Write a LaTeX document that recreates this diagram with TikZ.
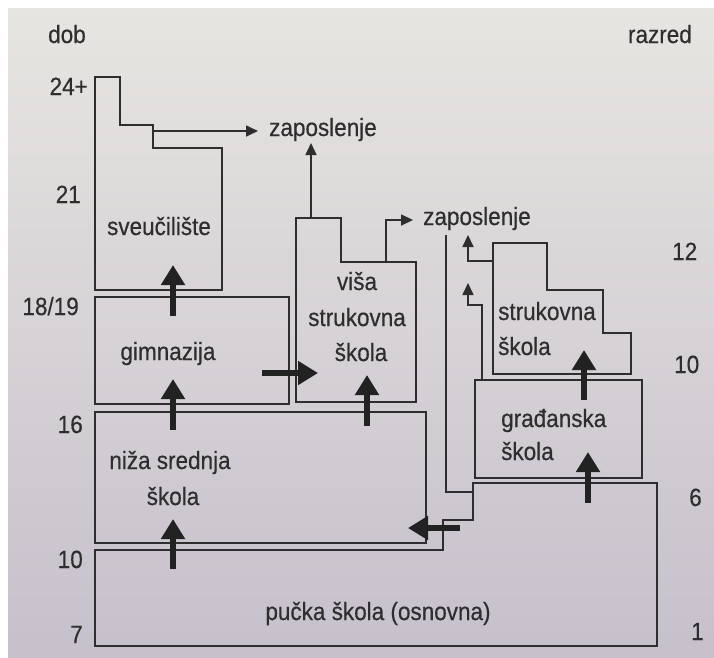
\documentclass[tikz,border=0pt]{standalone}
\usepackage{fontspec}
\setmainfont[FakeStretch=0.9,FakeBold=0.4]{Liberation Sans}
\usetikzlibrary{arrows.meta}
\definecolor{ink}{HTML}{2E2E2E}
\definecolor{flowink}{HTML}{222222}
\definecolor{bgtop}{RGB}{231,229,225}
\definecolor{bgbot}{RGB}{198,192,203}
\tikzset{
  box/.style={draw=ink, line width=1.7pt, line join=miter},
  thin arrow/.style={draw=ink, line width=1.7pt, -{Triangle[width=11pt,length=12pt]}},
  flow/.style={draw=flowink, line width=5.5pt, -{Triangle[width=23pt,length=20pt]}},
  lbl/.style={inner sep=0pt, text=ink, font=\fontsize{25}{35}\selectfont},
}
\begin{document}
\begin{tikzpicture}[x=1pt,y=-1pt]
\useasboundingbox (0,0) rectangle (714,657);
\fill[white] (0,0) rectangle (714,657);
\shade[top color=bgtop, bottom color=bgbot] (8,8) rectangle (714,657);

% axis labels
\node[lbl, anchor=base west] (dob) at (48,43) {dob};
\node[lbl, anchor=base east] (a24) at (88,95) {24+};
\node[lbl, anchor=base east] (a21) at (81,203) {21};
\node[lbl, anchor=base east] (a18) at (79,315) {18/19};
\node[lbl, anchor=base east] (a16) at (83,433) {16};
\node[lbl, anchor=base east] (a10) at (83,568) {10};
\node[lbl, anchor=base east] (a7) at (83,643) {7};
\node[lbl, anchor=base east] (razred) at (692,43) {razred};
\node[lbl, anchor=base west] (r12) at (672,260) {12};
\node[lbl, anchor=base west] (r10) at (674,373) {10};
\node[lbl, anchor=base west] (r6) at (689,506) {6};
\node[lbl, anchor=base west] (r1) at (691,640) {1};

% shapes
\draw[box] (95,77) -- (120,77) -- (120,125) -- (153,125) -- (153,148) -- (222,148) -- (222,290) -- (95,290) -- cycle;
\draw[box] (296,218) -- (341,218) -- (341,262) -- (416,262) -- (416,402) -- (296,402) -- cycle;
\draw[box] (95,297) rectangle (289,404);
\draw[box] (95,412) rectangle (426,543);
\draw[box] (95,550) -- (443,550) -- (443,520) -- (473,520) -- (473,483) -- (657,483) -- (657,646) -- (95,646) -- cycle;
\draw[box] (475,380) rectangle (642,478);
\draw[box] (493,243) -- (547,243) -- (547,290) -- (603,290) -- (603,333) -- (631,333) -- (631,374) -- (493,374) -- cycle;

% texts
\node[lbl, anchor=base] (sveu) at (159,235) {sveučilište};
\node[lbl, anchor=base west] (zap1) at (269,136) {zaposlenje};
\node[lbl, anchor=base west] (zap2) at (423,225) {zaposlenje};
\node[lbl, anchor=base] (visa1) at (357,290) {viša};
\node[lbl, anchor=base] (visa2) at (357,326) {strukovna};
\node[lbl, anchor=base] (visa3) at (361,361) {škola};
\node[lbl, anchor=base] (gimn) at (168,360) {gimnazija};
\node[lbl, anchor=base] (niza1) at (170,469) {niža srednja};
\node[lbl, anchor=base] (niza2) at (173,505) {škola};
\node[lbl, anchor=base] (pucka) at (378,620) {pučka škola (osnovna)};
\node[lbl, anchor=base west] (stru1) at (498,320) {strukovna};
\node[lbl, anchor=base west] (stru2) at (498,355) {škola};
\node[lbl, anchor=base west] (grad1) at (501,427) {građanska};
\node[lbl, anchor=base west] (grad2) at (501,460) {škola};

% connector coordinates
\coordinate (svS) at (153,131);
\coordinate (svE) at (258,131);
\coordinate (viTop) at (311,218);
\coordinate (viUp) at (311,143);
\coordinate (viS) at (386,262);
\coordinate (viE) at (413,220);
\coordinate (puS) at (473,492);
\coordinate (puT) at (446,235);
\coordinate (stS) at (493,261);
\coordinate (stE) at (468,235);
\coordinate (grS) at (482,380);
\coordinate (grE) at (468,283);

\draw[thin arrow] (svS) -- (svE);
\draw[thin arrow] (viTop) -- (viUp);
\draw[thin arrow] (viS) |- (viE);
\draw[box] (puS) -| (puT);
\draw[thin arrow] (stS) -| (stE);
\draw[thin arrow] (grS) -- (482,305) -| (grE);

% thick flow arrows
\coordinate (f1a) at (173,569); \coordinate (f1b) at (173,519);
\coordinate (f2a) at (173,430); \coordinate (f2b) at (173,379);
\coordinate (f3a) at (173,316); \coordinate (f3b) at (173,265);
\coordinate (f4a) at (262,373); \coordinate (f4b) at (318,373);
\coordinate (f5a) at (367,426); \coordinate (f5b) at (367,375);
\coordinate (f6a) at (588,503); \coordinate (f6b) at (588,452);
\coordinate (f7a) at (584,400); \coordinate (f7b) at (584,350);
\coordinate (f8a) at (460,528); \coordinate (f8b) at (408,528);
\foreach \i in {1,...,8} { \draw[flow] (f\i a) -- (f\i b); }
\end{tikzpicture}
\end{document}
